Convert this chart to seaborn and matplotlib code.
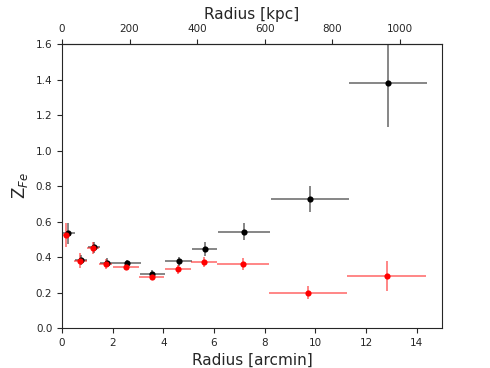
import numpy as np
import pandas as pd
import matplotlib
matplotlib.use("Agg")
import matplotlib.pyplot as plt
import seaborn as sns

# Black series
r_black = [0.25, 0.75, 1.26, 1.76, 2.55, 3.56, 4.6, 5.63, 7.2, 9.78, 12.87]
r_black_err = [0.25, 0.25, 0.25, 0.25, 0.55, 0.5, 0.52, 0.5, 1.03, 1.54, 1.55]
z_black = [0.533, 0.383, 0.455, 0.368, 0.364, 0.304, 0.377, 0.445, 0.543, 0.725, 1.379]
z_black_err = [0.06, 0.03, 0.03, 0.025, 0.02, 0.02, 0.025, 0.042, 0.047, 0.074, 0.245]

# Red series
r_red = [0.16, 0.72, 1.22, 1.72, 2.52, 3.54, 4.57, 5.6, 7.15, 9.72, 12.81]
r_red_err = [0.2, 0.25, 0.25, 0.25, 0.52, 0.5, 0.52, 0.5, 1.03, 1.54, 1.54]
z_red = [0.524, 0.38, 0.45, 0.36, 0.345, 0.289, 0.33, 0.372, 0.359, 0.199, 0.293]
z_red_err = [0.065, 0.04, 0.035, 0.03, 0.02, 0.02, 0.025, 0.03, 0.033, 0.035, 0.085]

kpc_per_arcmin = 75.0

sns.set_style("ticks")
fig, ax = plt.subplots(figsize=(4.9, 3.68), dpi=100)
fig.subplots_adjust(left=0.1265, right=0.902, bottom=0.1087, top=0.8804)

ax.errorbar(r_black, z_black, xerr=r_black_err, yerr=z_black_err, fmt="none",
            ecolor="black", alpha=0.6, elinewidth=1.1)
ax.errorbar(r_red, z_red, xerr=r_red_err, yerr=z_red_err, fmt="none",
            ecolor="red", alpha=0.6, elinewidth=1.1)

df_black = pd.DataFrame({"r": r_black, "z": z_black})
df_red = pd.DataFrame({"r": r_red, "z": z_red})
sns.scatterplot(data=df_black, x="r", y="z", color="black", s=20, linewidth=0, ax=ax, zorder=3)
sns.scatterplot(data=df_red, x="r", y="z", color="red", s=20, linewidth=0, ax=ax, zorder=3)

ax.set_xlim(0, 15)
ax.set_ylim(0, 1.6)
ax.set_yticks(np.arange(0, 1.61, 0.2))
ax.set_xticks(np.arange(0, 15, 2))
ax.tick_params(labelsize=7.5, length=3.5, width=0.8)
ax.set_xlabel("Radius [arcmin]", fontsize=11)
ax.set_ylabel("Z$_{Fe}$", fontsize=12)

sec = ax.secondary_xaxis("top", functions=(lambda x: x * kpc_per_arcmin,
                                           lambda x: x / kpc_per_arcmin))
sec.set_xticks(np.arange(0, 1001, 200))
sec.tick_params(labelsize=7.5, length=3.5, width=0.8)
sec.set_xlabel("Radius [kpc]", fontsize=11)

for s in ax.spines.values():
    s.set_linewidth(0.8)

fig.savefig("out.png", dpi=100)
